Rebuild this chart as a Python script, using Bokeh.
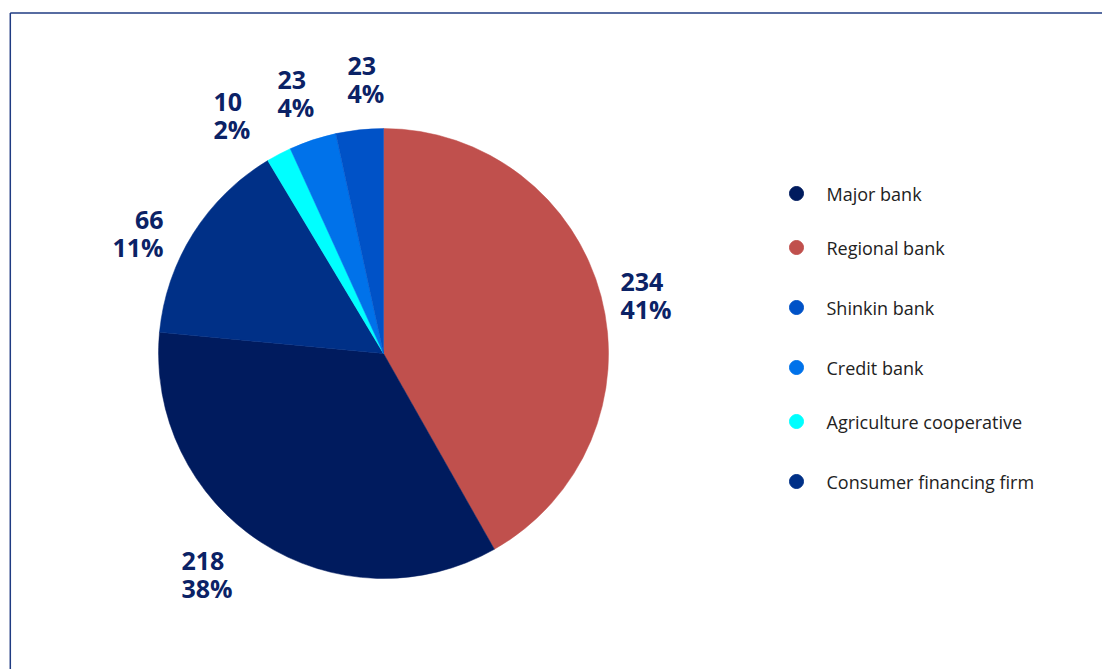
import math
from bokeh.plotting import figure
from bokeh.models import Range1d, ColumnDataSource
from bokeh.core.properties import value
from bokeh.embed import file_html
from bokeh.resources import INLINE

# ---- data (clockwise from 12 o'clock) ----
categories = ["Regional bank", "Major bank", "Consumer financing firm",
              "Agriculture cooperative", "Credit bank", "Shinkin bank"]
counts = [234, 218, 66, 10, 23, 23]
pct_labels = ["41%", "38%", "11%", "2%", "4%", "4%"]
# slice sizes as drawn in the picture (percent of the circle)
slice_share = [41.8, 34.7, 14.9, 1.8, 3.4, 3.4]
colors = ["#c0504d", "#001b5e", "#003087", "#00ffff", "#0072ea", "#0052c7"]

legend_order = ["Major bank", "Regional bank", "Shinkin bank", "Credit bank",
                "Agriculture cooperative", "Consumer financing firm"]

# ---- layout (pixels) ----
W, H = 1102, 669
def X(px): return px
def Y(py): return H - py

CX, CY, R = X(383), Y(353), 225
LABEL_ANCHOR = [(237, 58), (-202, -221), (-220, 120), (-170, 238), (-106, 260), (-36, 274)]
LABEL_ALIGN = ["left", "left", "right", "left", "left", "left"]
LEGEND_ROWS_PY = [193, 247, 307, 367, 421, 481]
NAVY = "#0b2266"

p = figure(width=W, height=H, output_backend="svg", toolbar_location=None,
           x_range=Range1d(0, W), y_range=Range1d(0, H),
           min_border=0, min_border_left=0, min_border_right=0,
           min_border_top=0, min_border_bottom=0)
p.axis.visible = False
p.grid.visible = False
p.outline_line_color = None
p.background_fill_color = "white"
p.border_fill_color = "white"

# border of the chart area (top and left edges visible)
p.segment(x0=[X(9.8), X(9.8)], y0=[0, Y(12.5)], x1=[X(9.8), W], y1=[Y(12.5), Y(12.5)],
          line_color="#1f3b82", line_width=1.5)

# wedges
total = sum(slice_share)
starts, ends = [], []
cum = 0.0
for s in slice_share:
    a0 = cum / total
    cum += s
    a1 = cum / total
    starts.append(math.pi / 2 - 2 * math.pi * a1)
    ends.append(math.pi / 2 - 2 * math.pi * a0)
src = ColumnDataSource(dict(x=[CX] * len(counts), y=[CY] * len(counts),
                            start=starts, end=ends, color=colors, cat=categories))
p.wedge(x="x", y="y", radius=R, start_angle="start", end_angle="end",
        direction="anticlock", fill_color="color", line_color="color",
        line_width=0.5, source=src)

# labels
for i in range(len(counts)):
    dx, dy = LABEL_ANCHOR[i]
    ax, ay = CX + dx, CY + dy
    p.text(x=[ax, ax], y=[ay + 13.5, ay - 13.5],
           text=[str(counts[i]), pct_labels[i]],
           text_font=value("Open Sans"), text_font_style="bold",
           text_font_size="25px", text_color=NAVY,
           text_align=LABEL_ALIGN[i], text_baseline="middle")

# legend
for name, py in zip(legend_order, LEGEND_ROWS_PY):
    c = colors[categories.index(name)]
    p.scatter(x=[X(796)], y=[Y(py)], size=14, marker="circle",
              fill_color=c, line_color=c)
    p.text(x=[X(826)], y=[Y(py)], text=[name],
           text_font=value("Open Sans"), text_font_size="18px",
           text_color="#222222", text_align="left", text_baseline="middle")

open("out.html", "w").write(file_html(p, INLINE))
